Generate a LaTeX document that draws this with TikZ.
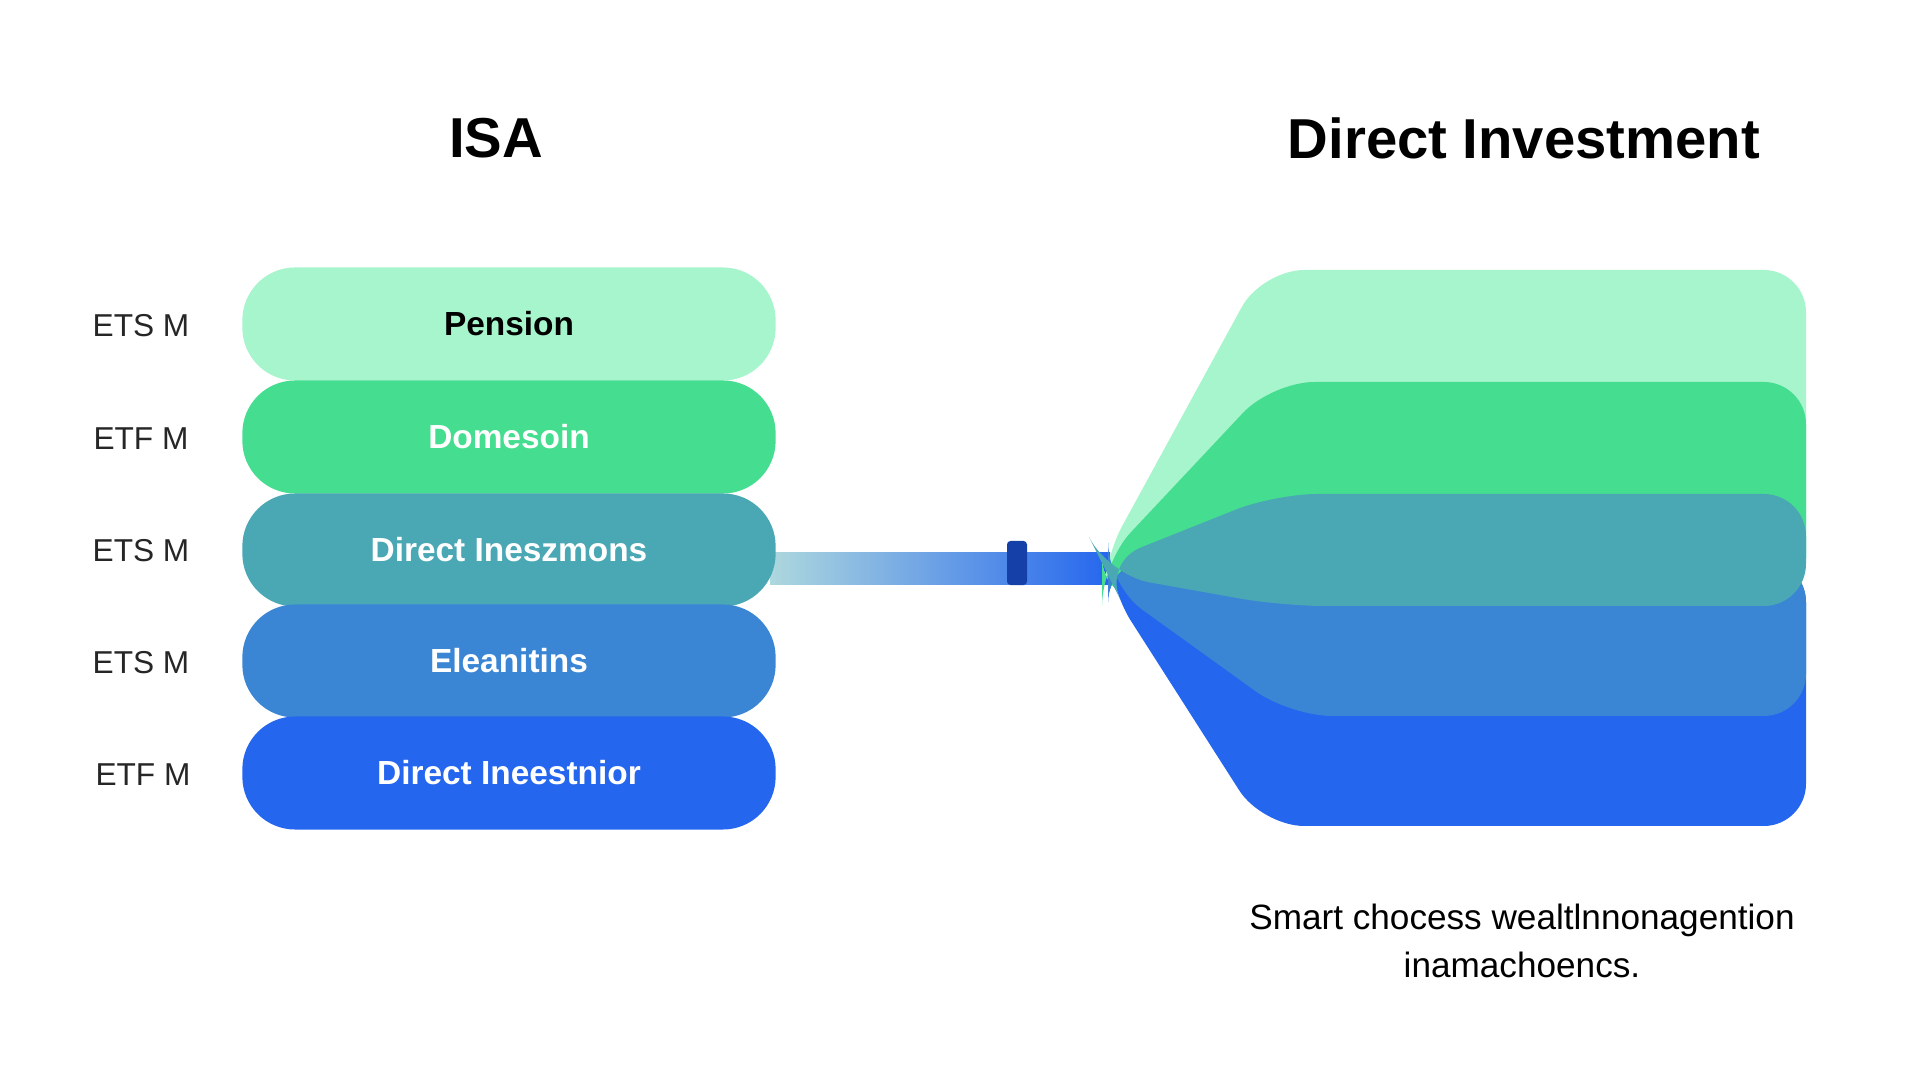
\documentclass[tikz,border=0pt]{standalone}
\usepackage{fontspec}
\setmainfont{Liberation Sans}
\usetikzlibrary{positioning}
\definecolor{mint}{HTML}{A7F5CC}
\definecolor{leaf}{HTML}{45DD8F}
\definecolor{teal}{HTML}{4AA8B5}
\definecolor{midblue}{HTML}{3A86D4}
\definecolor{deepblue}{HTML}{2566EE}
\definecolor{tick}{HTML}{1440A8}
\tikzset{%
  % Specifications for style of nodes:
   title/.style = {font=\fontsize{16}{18}\selectfont\bfseries},
   tag/.style = {font=\fontsize{9}{11}\selectfont, text=black!85},
   pill/.style = {rectangle, rounded corners=15pt,
                  minimum width=5.33cm, minimum height=1.13cm,
                  text centered, text=white,
                  font=\fontsize{9.5}{11}\selectfont\bfseries},
  % Specifications for style of bands:
   band/.style = {rounded corners=12pt},
}
\begin{document}
\begin{tikzpicture}[x=0.01cm, y=-0.01cm]
  \useasboundingbox (0,0) rectangle (1920,1080);

  % Titles
  \node (isa_title) [title] at (496,138) {ISA};
  \node (di_title)  [title] at (1524,138) {Direct Investment};

  % Connector bar
  \shade[left color=teal!45, right color=deepblue] (770,553) rectangle (1110,585);
  \node (tick_mark) [fill=tick, rounded corners=1pt, minimum width=0.2cm,
        minimum height=0.44cm, inner sep=0pt] at (1017,563) {};

  % Left stack
  \node (pension) [pill, fill=mint, text=black] at (509,324) {Pension};
  \node (domesoin) [pill, fill=leaf] at (509,437) {Domesoin};
  \node (direct_a) [pill, fill=teal] at (509,550) {Direct Ineszmons};
  \node (eleanitins) [pill, fill=midblue] at (509,661) {Eleanitins};
  \node (direct_b) [pill, fill=deepblue] at (509,773) {Direct Ineestnior};

  \node (tag_a) [tag] at (141,326) {ETS M};
  \node (tag_b) [tag] at (141,439) {ETF M};
  \node (tag_c) [tag] at (141,551) {ETS M};
  \node (tag_d) [tag] at (141,663) {ETS M};
  \node (tag_e) [tag] at (143,775) {ETF M};

  % Right fan
  \coordinate (apex_top) at (1102,563);
  \coordinate (apex_low) at (1108,585);
  \fill[mint, band] (apex_top) -- (1262,270) -- (1806,270) -- (1806,600) -- (1102,600) -- cycle;
  \fill[leaf, band] (apex_top) -- (1272,382) -- (1806,382) -- (1806,600) -- (1102,600) -- cycle;
  \fill[deepblue, band] (apex_low) -- (1262,826) -- (1806,826) -- (1806,560) -- (1108,560) -- cycle;
  \fill[midblue, band] (apex_low) -- (1290,716) -- (1806,716) -- (1806,560) -- (1108,560) -- cycle;
  \fill[teal, band] (apex_top) -- (1275,494) -- (1806,494) -- (1806,606) -- (1282,606) -- (1108,575) -- cycle;

  % Caption
  \node (caption) [align=center, font=\fontsize{10}{13.5}\selectfont] at (1522,941)
        {Smart chocess wealtlnnonagention\\inamachoencs.};
\end{tikzpicture}
\end{document}
